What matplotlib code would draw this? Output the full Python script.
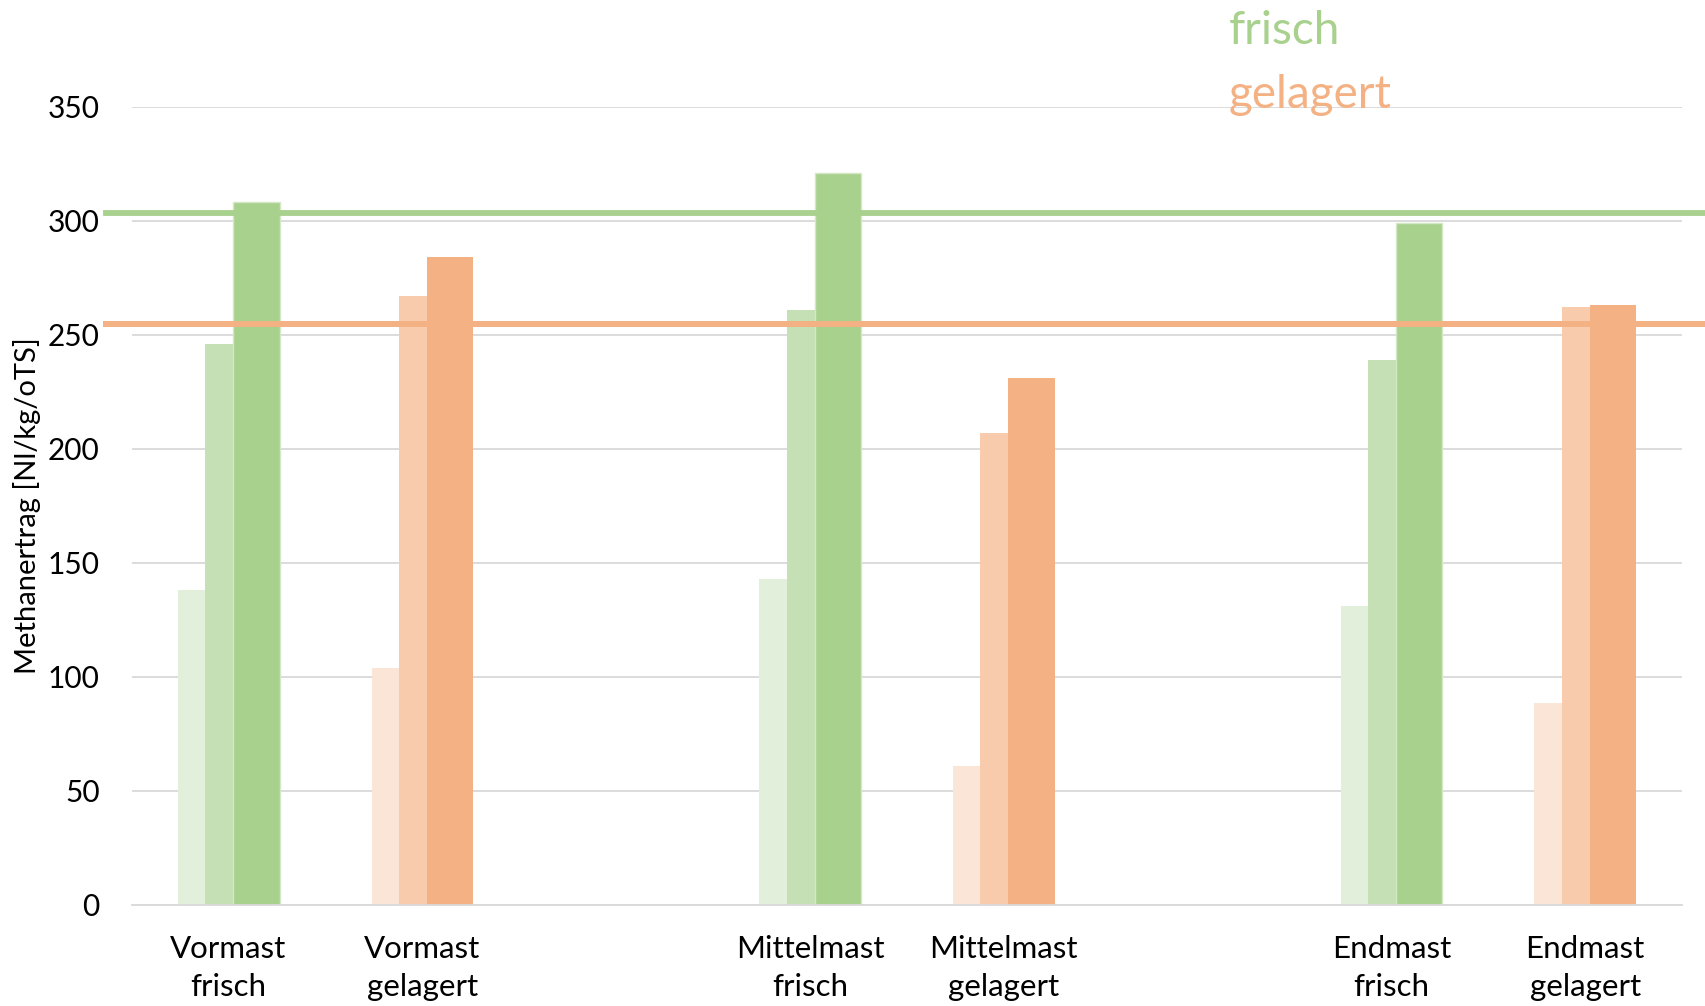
import numpy as np
import matplotlib
matplotlib.use("Agg")
import matplotlib.pyplot as plt

plt.rcParams["font.family"] = ["Lato", "DejaVu Sans"]

# Categories (two empty slots separate the feeding phases)
categories = ["Vormast\nfrisch", "Vormast\ngelagert", "",
              "Mittelmast\nfrisch", "Mittelmast\ngelagert", "",
              "Endmast\nfrisch", "Endmast\ngelagert"]
is_fresh = [True, False, None, True, False, None, True, False]

# Methane yield of the three measurements per sample [Nl/kg/oTS]
ertrag_1 = [138, 104, np.nan, 143, 61, np.nan, 131, 88.5]
ertrag_2 = [246, 267, np.nan, 261, 207, np.nan, 239, 262]
ertrag_3 = [308, 284, np.nan, 321, 231, np.nan, 299, 263]

# Mean level for fresh and stored manure
mittel_frisch = 303.5
mittel_gelagert = 254.7

GREENS = ["#e2efda", "#c5e0b4", "#a9d18e"]
ORANGES = ["#fbe5d6", "#f8cbad", "#f4b183"]
GRID = "#d9d9d9"

fig = plt.figure(figsize=(17.05, 10.06), dpi=100)
ax = fig.add_axes([0.0772, 0.1007, 0.9093, 0.7933])

x = np.arange(len(categories))
edges = [(-0.262, 0.142), (-0.120, 0.144), (0.024, 0.240)]
series = [ertrag_1, ertrag_2, ertrag_3]

for k, (vals, (off, w)) in enumerate(zip(series, edges)):
    for i, v in enumerate(vals):
        if is_fresh[i] is None:
            continue
        col = GREENS[k] if is_fresh[i] else ORANGES[k]
        ec = "#d3e8c4" if (is_fresh[i] and k == 2) else "none"
        ax.bar(x[i] + off, v, width=w, align="edge", color=col,
               edgecolor=ec, linewidth=1.0, zorder=2)

# Mean lines reach past the plot area to the right edge
x0 = (106 - 131.6) / 1550.4
x1 = (1705 - 131.6) / 1550.4
ax.axhline(mittel_frisch, xmin=x0, xmax=x1, color="#a9d18e", lw=4.2,
           clip_on=False, zorder=3)
ax.axhline(mittel_gelagert, xmin=x0, xmax=x1, color="#f4b183", lw=4.3,
           clip_on=False, zorder=3)

ax.set_ylim(0, 350)
ax.set_xlim(-0.5, len(categories) - 0.5)
ax.set_yticks(np.arange(0, 351, 50))
ax.yaxis.grid(True, color=GRID, lw=1.3, zorder=0)
ax.set_axisbelow(True)
for s in ["top", "right", "left"]:
    ax.spines[s].set_visible(False)
ax.spines["bottom"].set_color(GRID)
ax.spines["bottom"].set_linewidth(1.3)

ax.set_xticks(x)
ax.set_xticklabels(categories, fontsize=22.5, linespacing=1.43)
ax.tick_params(axis="x", length=0, pad=22)
ax.tick_params(axis="y", length=0, pad=23, labelsize=21.5)

fig.text(27 / 1705, 1 - 506 / 1006, "Methanertrag [Nl/kg/oTS]",
         rotation=90, ha="center", va="center", fontsize=21)

fig.text(0.7208, 1 - 44 / 1006, "frisch", color="#a9d18e", fontsize=33,
         va="baseline", ha="left")
fig.text(0.7208, 1 - 108 / 1006, "gelagert", color="#f4b183", fontsize=33,
         va="baseline", ha="left")

fig.savefig("out.png", dpi=100)
